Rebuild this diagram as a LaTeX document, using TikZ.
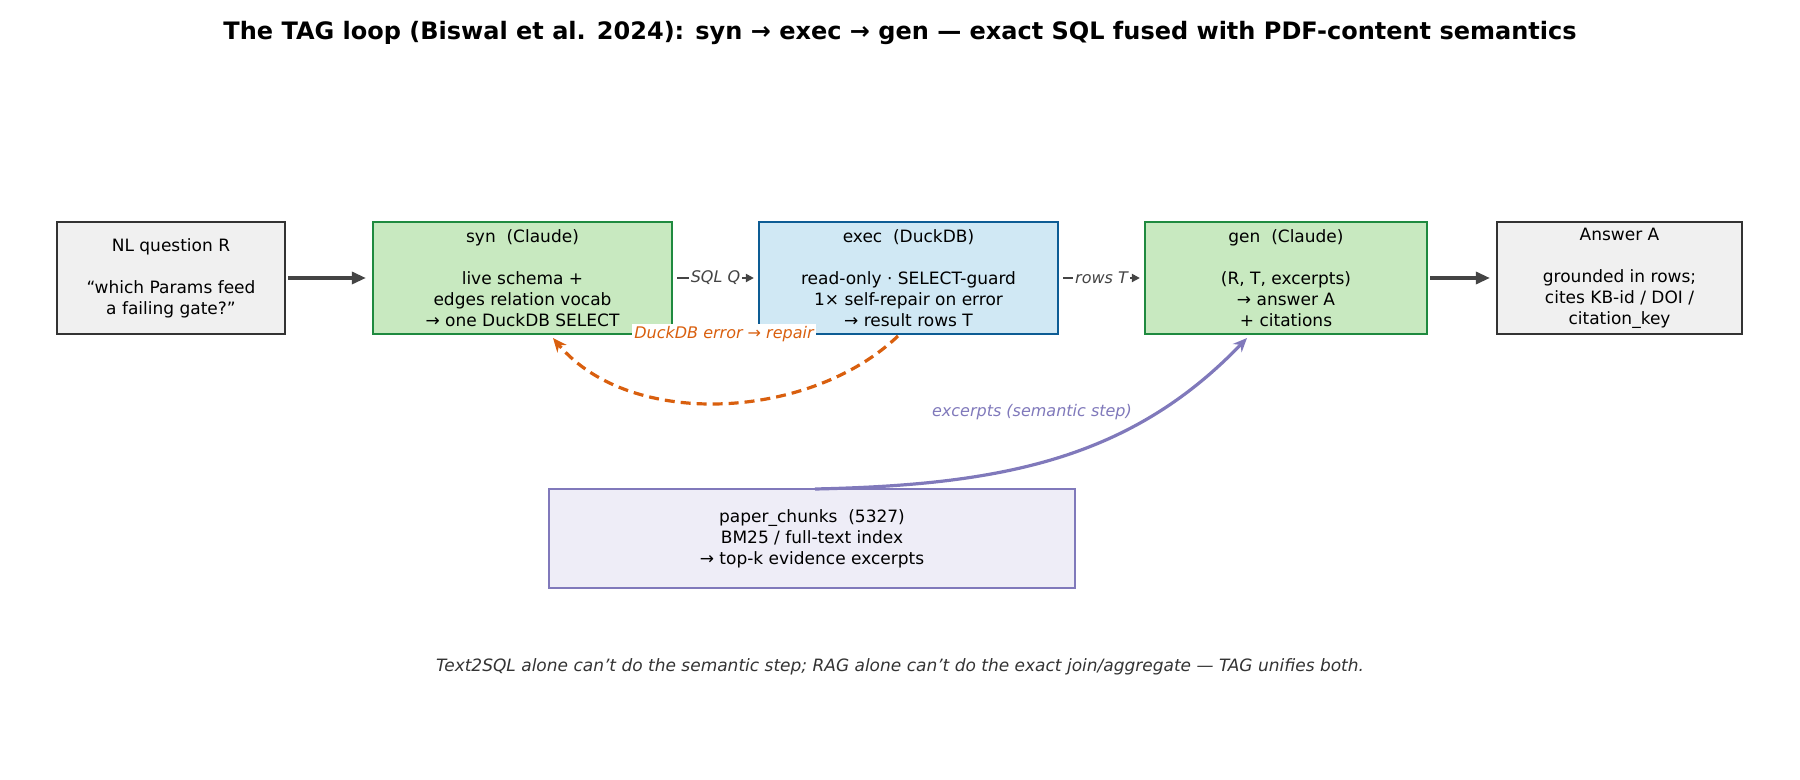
\documentclass[tikz,border=0pt]{standalone}
\usepackage{fontspec}
\setmainfont{DejaVu Sans}
\usetikzlibrary{arrows.meta}
\definecolor{gfill}{HTML}{C8E9C0}\definecolor{gline}{HTML}{1F8A3F}
\definecolor{bfill}{HTML}{D0E8F4}\definecolor{bline}{HTML}{0D5C94}
\definecolor{nfill}{HTML}{F0F0F0}\definecolor{nline}{HTML}{333333}
\definecolor{pfill}{HTML}{EEEDF7}\definecolor{pline}{HTML}{8079BB}
\definecolor{orng}{HTML}{D95F0E}\definecolor{dk}{HTML}{444444}
\begin{document}
\begin{tikzpicture}[x=0.5pt,y=-0.5pt,
 box/.style={draw,line width=1.1pt,align=center,inner sep=0pt,font=\fontsize{8.5pt}{10.5pt}\selectfont},
 big/.style={-{Triangle[length=7pt,width=6pt]},line width=1.6pt,dk},
 small/.style={-{Triangle[length=4pt,width=4pt]},line width=1.3pt,dk},
 lab/.style={font=\itshape\fontsize{8pt}{9pt}\selectfont,fill=white,inner sep=1pt}]
\useasboundingbox (0,0) rectangle (1800,780);
\node[font=\bfseries\fontsize{12pt}{14pt}\selectfont] (title) at (900,33) {The TAG loop (Biswal et al. 2024): syn → exec → gen — exact SQL fused with PDF-content semantics};
\node[box,fill=nfill,draw=nline,minimum width=114pt,minimum height=56pt] (nl) at (171,278) {NL question R\\[10.5pt]“which Params feed\\a failing gate?”};
\node[box,fill=gfill,draw=gline,minimum width=149.5pt,minimum height=56pt] (syn) at (522.5,278) {syn\ \ (Claude)\\[10.5pt]live schema +\\edges relation vocab\\→ one DuckDB SELECT};
\node[box,fill=bfill,draw=bline,minimum width=149.5pt,minimum height=56pt] (exec) at (908.5,278) {exec\ \ (DuckDB)\\[10.5pt]read-only · SELECT-guard\\1× self-repair on error\\→ result rows T};
\node[box,fill=gfill,draw=gline,minimum width=141pt,minimum height=56pt] (gen) at (1286,278) {gen\ \ (Claude)\\[10.5pt](R, T, excerpts)\\→ answer A\\+ citations};
\node[box,fill=nfill,draw=nline,minimum width=122.5pt,minimum height=56pt] (ans) at (1619.5,278) {Answer A\\[10.5pt]grounded in rows;\\cites KB-id / DOI /\\citation\_key};
\node[box,fill=pfill,draw=pline,minimum width=263pt,minimum height=49.5pt] (pc) at (812,538.5) {paper\_chunks\ \ (5327)\\BM25 / full-text index\\→ top-k evidence excerpts};
\draw[big] (nl.east) ++(2,0) -- ([xshift=-3pt]syn.west);
\draw[big] (gen.east) ++(2,0) -- ([xshift=-3pt]ans.west);
\draw[small] ([xshift=2pt]syn.east) -- node[lab,text=dk]{SQL Q} ([xshift=-2pt]exec.west);
\draw[small] ([xshift=2pt]exec.east) -- node[lab,text=dk]{rows T} ([xshift=-2pt]gen.west);
\coordinate (eb) at (898,336);
\coordinate (sb) at (553,338);
\draw[orng,line width=1.6pt,dash pattern=on 5pt off 3pt,-{Stealth[length=7pt,width=6pt]}] (eb) .. controls (810,420) and (630,430) .. (sb);
\node[lab,text=orng,fill=white] (el) at (724,334) {DuckDB error → repair};
\coordinate (pt) at (815,489);
\coordinate (gb) at (1247,338);
\draw[pline,line width=1.6pt,-{Stealth[length=7pt,width=6pt]}] (pt) .. controls (1000,485) and (1130,460) .. (gb);
\node[lab,text=pline,fill=white] (xl) at (1032,412) {excerpts (semantic step)};
\node[font=\itshape\fontsize{8.5pt}{10pt}\selectfont,text=nline] (foot) at (900,667) {Text2SQL alone can't do the semantic step; RAG alone can't do the exact join/aggregate — TAG unifies both.};
\end{tikzpicture}
\end{document}
